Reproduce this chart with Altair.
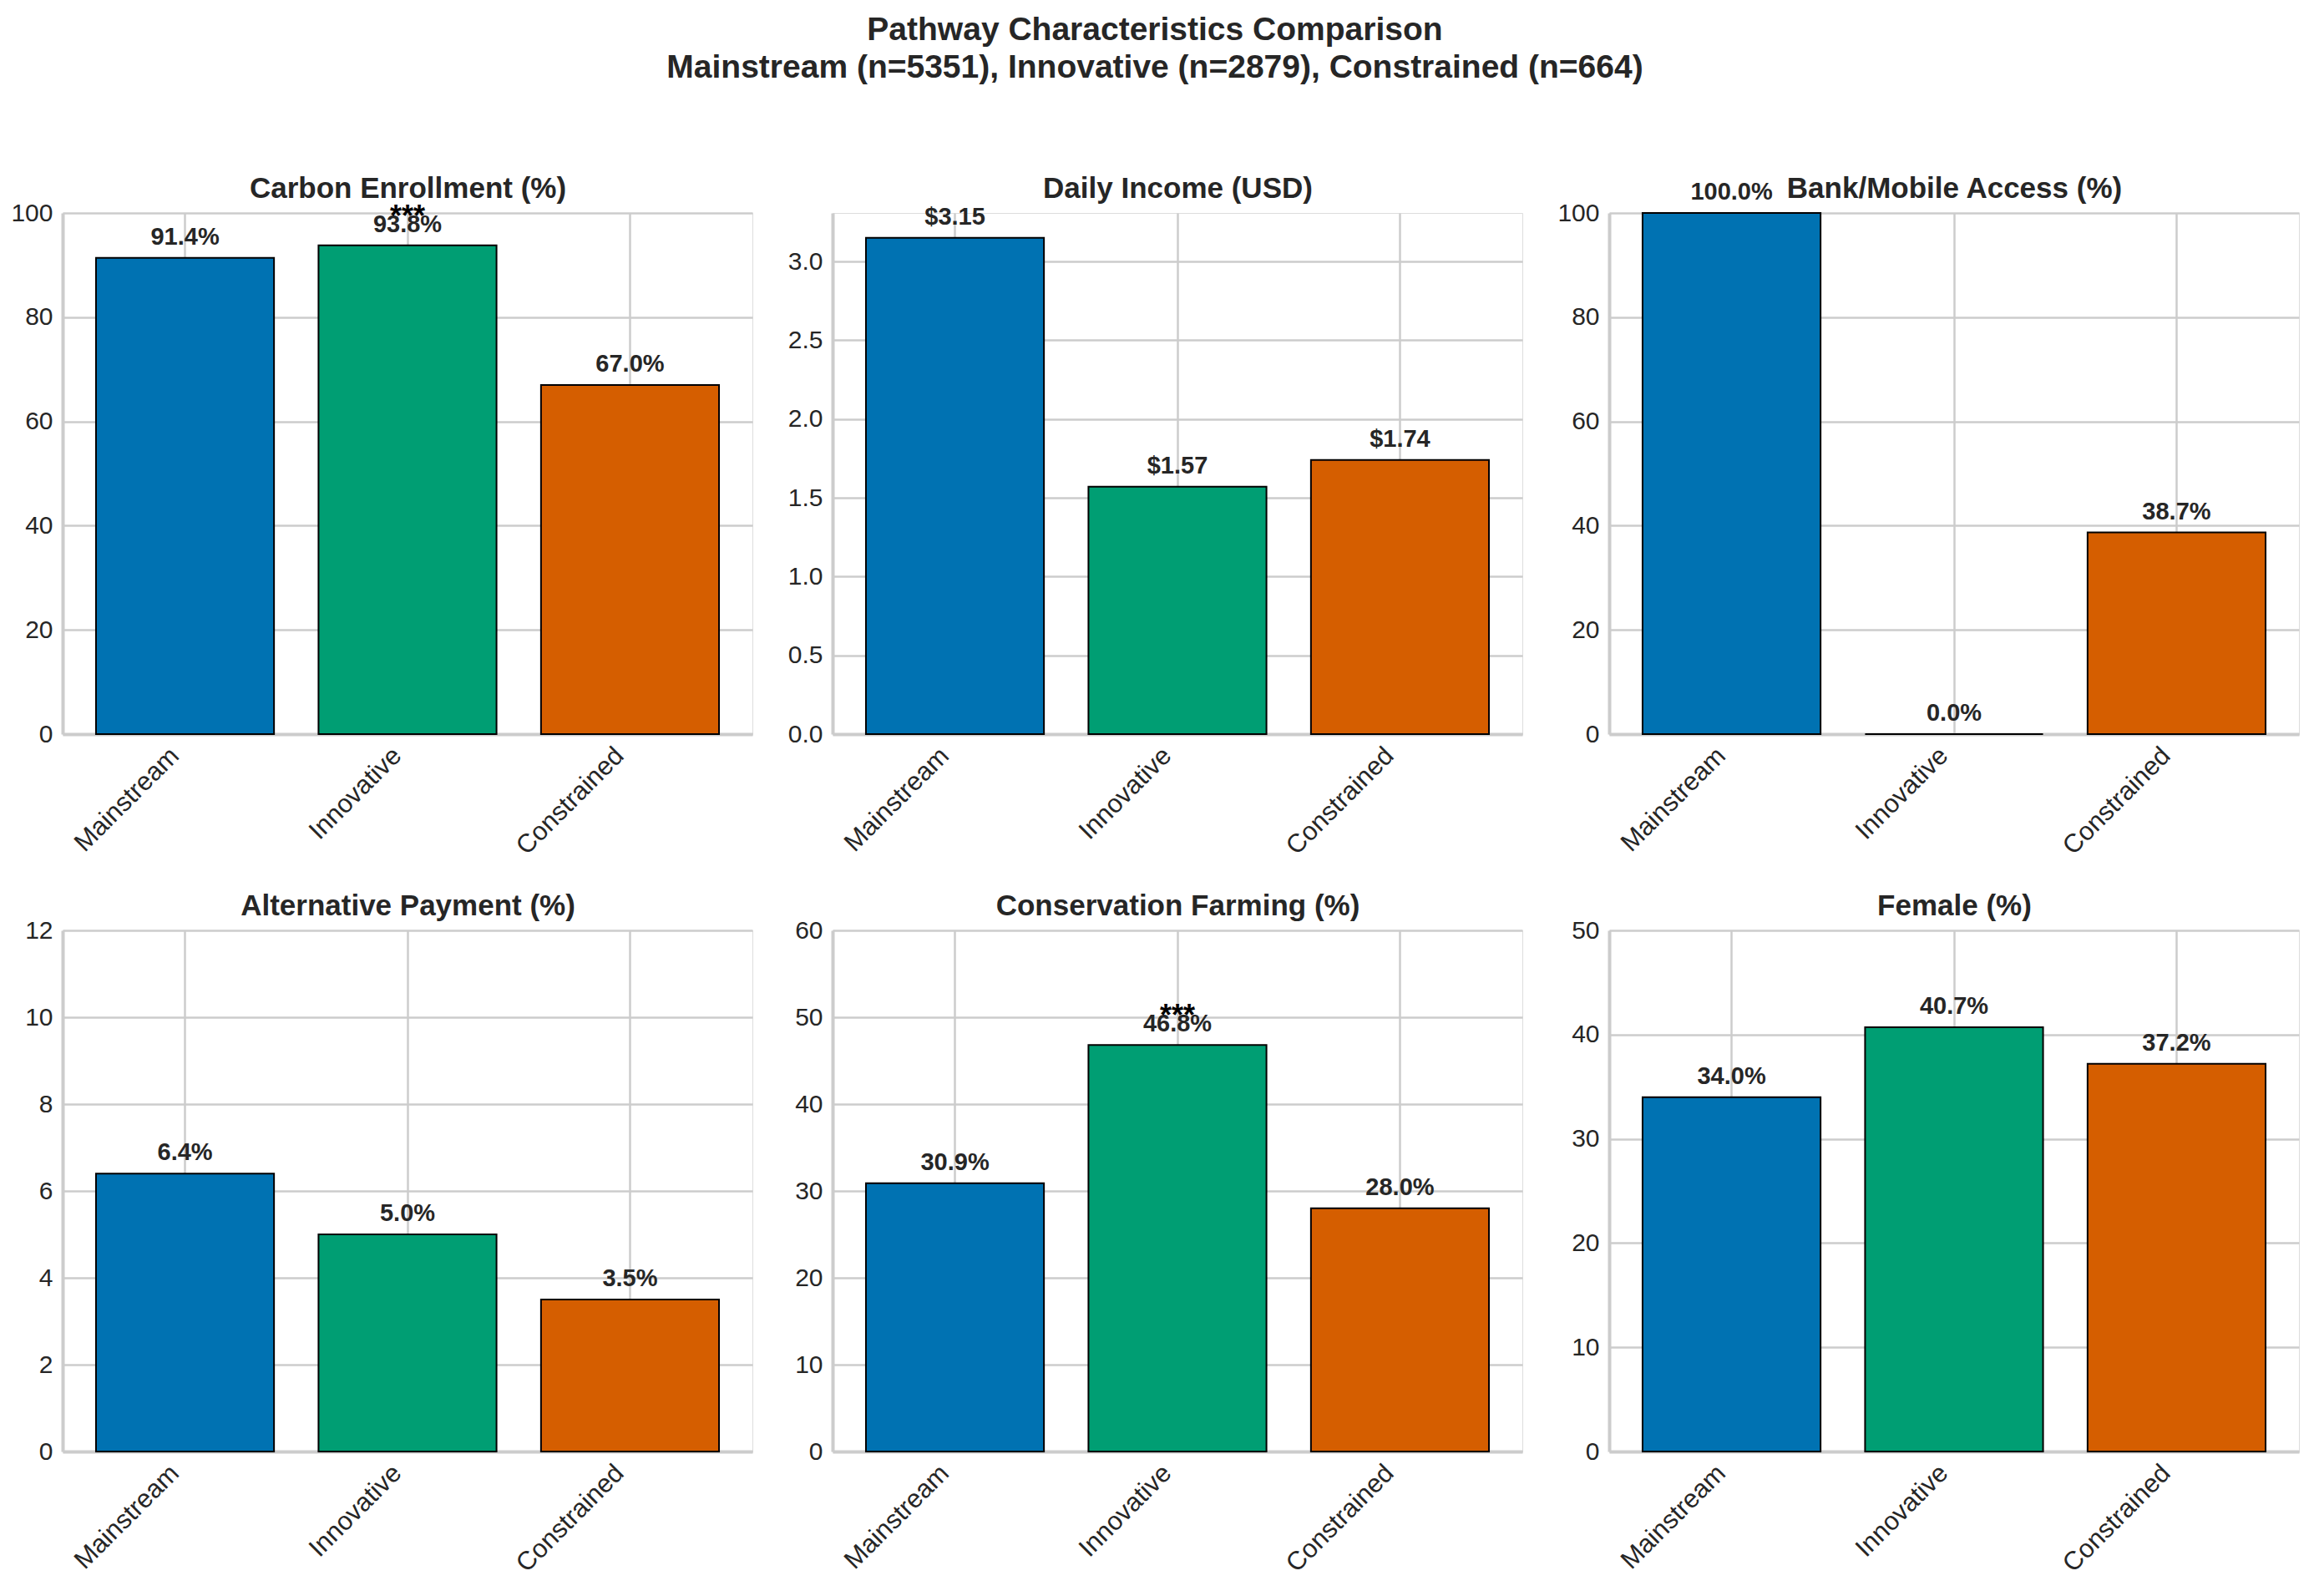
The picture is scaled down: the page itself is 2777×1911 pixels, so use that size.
import altair as alt
import pandas as pd

categories = ["Mainstream", "Innovative", "Constrained"]
bar_colors = ["#0072B2", "#009E73", "#D55E00"]

panel_titles = [
    "Carbon Enrollment (%)", "Daily Income (USD)", "Bank/Mobile Access (%)",
    "Alternative Payment (%)", "Conservation Farming (%)", "Female (%)",
]
carbon = [91.4, 93.8, 67.0]
income = [3.15, 1.57, 1.74]
bank = [100.0, 0.0, 38.7]
altpay = [6.4, 5.0, 3.5]
conserv = [30.9, 46.8, 28.0]
female = [34.0, 40.7, 37.2]

stars_carbon = ["", "***", ""]
stars_none = ["", "", ""]
stars_conserv = ["", "***", ""]

y_max = [100, 3.3075, 100, 12, 60, 50]
y_ticks = [
    [0, 20, 40, 60, 80, 100],
    [0, 0.5, 1.0, 1.5, 2.0, 2.5, 3.0],
    [0, 20, 40, 60, 80, 100],
    [0, 2, 4, 6, 8, 10, 12],
    [0, 10, 20, 30, 40, 50, 60],
    [0, 10, 20, 30, 40, 50],
]
y_formats = ["d", ".1f", "d", "d", "d", "d"]

series = [carbon, income, bank, altpay, conserv, female]
stars = [stars_carbon, stars_none, stars_none, stars_none, stars_conserv, stars_none]
is_money = [False, True, False, False, False, False]

FONT = "Liberation Sans"
TXT = "#262626"
GRID = "#cccccc"


def panel(i):
    vals = series[i]
    labels = [("$%.2f" % v) if is_money[i] else ("%.1f%%" % v) for v in vals]
    df = pd.DataFrame({"cat": categories, "value": vals, "label": labels, "star": stars[i]})
    xscale = alt.Scale(domain=categories, paddingInner=0.2, paddingOuter=0.15)
    x_bottom = alt.X(
        "cat:N", sort=categories, scale=xscale,
        axis=alt.Axis(
            title=None, labelAngle=315, labelAlign="right", labelBaseline="middle",
            ticks=False, grid=True, bandPosition=0.5, gridColor=GRID, gridWidth=2.5,
            domainColor=GRID, domainWidth=4, labelFontSize=31, labelColor=TXT,
            labelFont=FONT, labelPadding=21, labelOffset=-12,
        ),
    )
    x_top = alt.X(
        "cat:N", sort=categories, scale=xscale,
        axis=alt.Axis(
            orient="top", title=panel_titles[i], labels=False, ticks=False, domain=False,
            grid=False, titleFontSize=35, titleFontWeight="bold", titleFont=FONT,
            titleColor=TXT, titlePadding=12,
        ),
    )
    y = alt.Y(
        "value:Q",
        scale=alt.Scale(domain=[0, y_max[i]], nice=False, zero=True),
        axis=alt.Axis(
            title=None, values=y_ticks[i], format=y_formats[i], ticks=False, grid=True,
            gridColor=GRID, gridWidth=2.5, domainColor=GRID, domainWidth=4,
            labelFontSize=30, labelColor=TXT, labelFont=FONT, labelPadding=12,
        ),
    )
    base = alt.Chart(df)
    bars = base.mark_bar(stroke="black", strokeWidth=2).encode(
        x=x_bottom, y=y,
        color=alt.Color("cat:N", scale=alt.Scale(domain=categories, range=bar_colors), legend=None),
    )
    text = base.mark_text(
        dy=-25, fontSize=29, fontWeight="bold", color=TXT, font=FONT, baseline="middle"
    ).encode(x=x_top, y=alt.Y("value:Q"), text="label:N")
    star = base.transform_filter(alt.datum.star != "").mark_text(
        dy=-34, fontSize=36, fontWeight="bold", color="black", font=FONT, baseline="middle"
    ).encode(x=alt.X("cat:N", sort=categories, axis=None), y=alt.Y("value:Q"), text="star:N")
    return alt.layer(bars, text, star).resolve_axis(x="independent").properties(
        width=826, height=624,
    )


chart = alt.concat(
    *[panel(i) for i in range(6)], columns=3, spacing={"row": 36, "column": 40}
).resolve_scale(y="independent", x="independent").properties(
    title=alt.TitleParams(
        [
            "Pathway Characteristics Comparison",
            "Mainstream (n=5351), Innovative (n=2879), Constrained (n=664)",
        ],
        fontSize=39, fontWeight="bold", font=FONT, color=TXT, anchor="middle",
        lineHeight=45, offset=107,
    ),
    padding={"left": 4, "top": 8, "right": 10, "bottom": 5},
).configure_view(stroke=None).configure(background="white")

chart.save("out.html", embed_options={"renderer": "svg", "actions": False})
